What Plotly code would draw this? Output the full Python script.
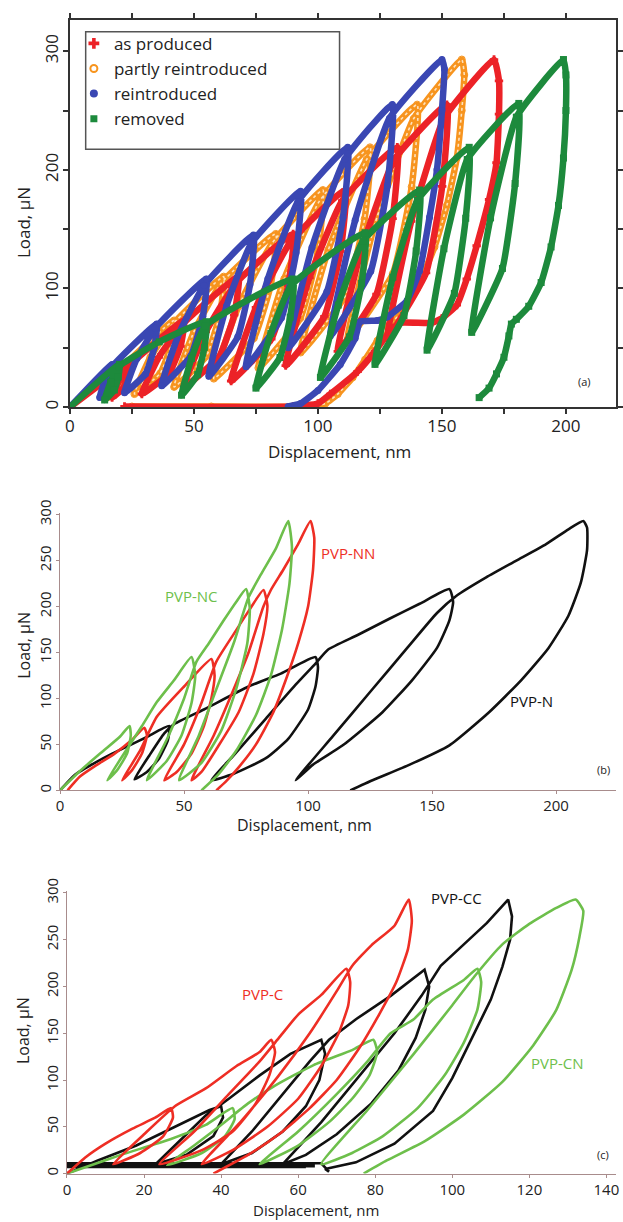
import plotly.graph_objects as go

# ---------------- panel (a): load-displacement, multi-cycle indents ----------------
as_produced_x = [0, 24, 23.4, 21.5, 17, 19.8, 23.6, 46, 44.6, 40, 29, 35.8, 45.2,
                 68, 66.2, 60.3, 46, 54.8, 66.9, 90, 88, 81.2, 65, 75, 88.7,
                 111, 109.1, 102.6, 87, 96.6, 109.8, 132, 130.1, 123.6, 108, 117.6, 130.8,
                 152, 150.1, 143.6, 128, 137.6, 150.8, 171, 173, 173, 172, 169, 164, 160,
                 156, 150, 146, 133, 129, 123, 116, 105, 100, 90, 22]
as_produced_y = [0, 36, 26, 16, 8, 22, 34.3, 73, 51.3, 28.4, 11, 42, 69.3,
                 110, 77.5, 43, 17, 63.5, 104.4, 146, 102.6, 57.3, 22, 84, 138.6,
                 183, 131.2, 76.4, 35, 109, 174.1, 219, 158.8, 95.2, 47, 133, 208.7,
                 255, 186, 113.2, 58, 156.5, 243.2, 293, 275, 247, 206, 175, 136, 108,
                 86, 75, 71, 71, 64, 47, 30, 11, 3, 0.5, 0.5]

partly_x = [0, 22, 21.4, 19.5, 15, 17.8, 21.6, 42, 40.7, 36.4, 26, 32.4, 41.2,
            62, 60.4, 55, 42, 50, 61, 83, 81, 74.2, 58, 68, 81.7,
            102, 99.9, 92.9, 76, 86.4, 100.7, 121, 118.8, 111.2, 93, 104.2, 119.6,
            140, 137.8, 130.2, 112, 123.2, 138.6, 158, 159, 158, 156, 152, 147, 140,
            134, 128, 124, 119, 114, 108, 103, 95, 57, 25]
partly_y = [0, 36, 26, 16, 8, 22, 34.3, 73, 51.3, 28.4, 11, 42, 69.3,
            110, 77.5, 43, 17, 63.5, 104.4, 146, 103.3, 58.2, 24, 85, 138.7,
            183, 130.5, 75, 33, 108, 174, 219, 158.5, 94.4, 46, 132.5, 208.6,
            255, 185.7, 112.4, 57, 156, 243.1, 293, 280, 250, 210, 170, 135, 100,
            80, 68, 56, 40, 25, 11, 3, 0.5, 0.5, 0.5]

reintroduced_x = [0, 17, 16.6, 15.2, 12, 14, 17, 35, 34, 30.5, 22, 27, 34.4,
                  55, 53.6, 48.7, 37, 44.2, 54.1, 74, 72.6, 67.7, 56, 63.2, 73.1,
                  93, 91.2, 85.3, 71, 79.8, 91.9, 112, 110.1, 103.6, 88, 97.6, 110.8,
                  130, 128, 121.3, 105, 115, 128.8, 150, 151, 150, 148, 145, 141, 136,
                  128, 124, 117, 115, 109, 100, 93, 88]
reintroduced_y = [0, 36, 26, 16, 8, 22, 34, 70, 50, 28, 12, 41, 66.5,
                  108, 76.5, 43, 18, 63, 102.6, 145, 103.4, 59.3, 26, 85.5, 137.9,
                  182, 130.2, 75.4, 34, 108, 173.1, 219, 159.9, 97.3, 50, 134.5, 208.9,
                  255, 186.8, 114.6, 60, 157.5, 243.3, 293, 285, 250, 200, 160, 115, 90,
                  76, 73, 72, 58, 36, 14, 3, 0.5]

removed_x = [0, 20, 19.5, 17.9, 14, 16.4, 19.7, 36, 55, 54.2, 51.5, 45, 49, 54.5,
             90, 88.8, 84.7, 75, 81, 89.2, 119, 117.6, 112.7, 101, 108.2, 118.1,
             141, 139.6, 134.7, 123, 130.2, 140.1, 161, 159.6, 155, 144, 150.8, 160.2,
             181, 179.5, 174.4, 162, 169.6, 180, 199, 200, 200, 199, 197, 194, 190,
             185, 180, 178, 177, 175, 172, 169, 165]
removed_y = [0, 36, 25.5, 14.4, 6, 21, 34.2, 55, 72, 50.3, 27.4, 10, 41, 68.3,
             108, 75.8, 41.8, 16, 62, 102.5, 147, 104.3, 59.2, 25, 86, 139.7,
             183, 131.6, 77.2, 36, 109.5, 174.2, 219, 159.2, 95.9, 48, 133.5, 208.7,
             256, 188.5, 116.9, 63, 159.5, 244.4, 293, 280, 250, 210, 170, 135, 105,
             85, 74, 70, 60, 42, 28, 16, 8]

# ---------------- panel (b) ----------------
pvp_n_x = [0, 6, 14, 21, 28, 35, 44, 43.5, 40, 35, 30, 36, 42, 46, 58, 76, 89, 103,
           104, 103, 100, 92, 83, 70, 61, 70, 83, 95, 103, 108, 120, 133, 145, 157,
           158.5, 157, 152, 142, 130, 114, 102, 95, 110, 125, 140, 152, 160, 172, 184,
           196, 205, 211, 212.5, 212.5, 210, 205, 197, 186, 173, 157, 141, 126, 117]
pvp_n_y = [0, 17, 30, 40, 49, 58, 70, 55, 35, 20, 12, 38, 62, 72, 88, 113, 127, 145,
           134, 113, 88, 56, 35, 18, 11, 38, 78, 115, 138, 153, 169, 187, 203, 219,
           205, 185, 155, 120, 85, 49, 28, 11, 59, 107, 155, 193, 212, 232, 250,
           268, 284, 293, 286, 261, 226, 190, 155, 120, 85, 49, 28, 11, 0]

pvp_nn_x = [3, 8, 15, 22, 29, 34, 35, 33, 29, 25, 32, 39, 50, 61,
            62.3, 61, 58, 53, 47, 42, 50, 57, 63, 70, 76, 82,
            83.6, 82, 78, 72, 64, 57, 53, 62, 70, 76, 82, 85, 90, 96, 101,
            102.5, 102, 100, 96, 91, 86, 79, 72, 67, 63]
pvp_nn_y = [0, 15, 28, 40, 55, 68, 60, 40, 22, 11, 42, 80, 113, 143,
            125, 100, 70, 40, 20, 11, 50, 95, 140, 170, 195, 218,
            201, 170, 127, 85, 49, 20, 11, 60, 110, 150, 200, 218, 240, 268, 293,
            275, 240, 200, 160, 120, 85, 50, 25, 10, 0]

pvp_nc_x = [0, 8, 17, 24, 28, 28.5, 27, 23, 19, 27, 33, 39, 46, 53,
            54.5, 53, 49, 43, 35, 43, 50, 55, 60, 66, 71, 75,
            76.5, 75.5, 71, 65, 57, 48, 56, 63, 70, 76, 81, 87, 92,
            93.5, 92.5, 89.5, 85, 79, 71, 64, 57]
pvp_nc_y = [0, 21, 42, 58, 70, 60, 40, 22, 11, 45, 70, 96, 120, 145,
            125, 95, 60, 32, 11, 55, 100, 140, 160, 185, 205, 219,
            198, 160, 110, 65, 30, 11, 60, 110, 160, 210, 235, 263, 293,
            265, 225, 175, 125, 82, 43, 18, 0]

# ---------------- panel (c) ----------------
pvp_c_x = [0, 5, 10, 17, 23, 27, 27.5, 25, 19, 12, 20, 28, 36, 44, 50, 53,
           54, 52.5, 49, 43, 35, 24, 33, 42, 50, 55, 60, 66, 72.5,
           73.5, 73, 70.5, 66, 60, 52, 43, 35, 45, 55, 63, 70, 74, 79, 85, 88.7,
           89.5, 88.5, 85.5, 81, 76, 70, 63, 55, 47, 38]
pvp_c_y = [0, 18, 32, 48, 60, 70, 60, 40, 22, 10, 42, 72, 91, 115, 130, 143,
           130, 105, 75, 45, 25, 10, 45, 85, 120, 145, 170, 191, 219,
           205, 180, 150, 115, 80, 50, 25, 10, 55, 105, 150, 195, 222, 244, 265, 293,
           270, 240, 205, 170, 135, 100, 70, 42, 20, 0]

# the black record ends with a long, noisy low-load stretch near 10 µN back to zero depth
pvp_cc_x = [0, 8, 18, 28, 37, 40, 40.5, 38, 31, 23, 30, 36, 42, 50, 58, 66,
            67, 65.5, 62, 56, 48, 40, 48, 56, 63, 68, 75, 84, 92.8,
            94, 93, 90.5, 86, 79, 70, 62, 56, 66, 76, 85, 92, 97, 103, 109, 114.5,
            115.5, 115, 113, 110, 105, 100, 95, 85, 75, 67, 68, 66, 0, 0, 64, 64, 0, 0, 62]
pvp_cc_y = [0, 14, 30, 50, 68, 72, 60, 40, 20, 10, 38, 62, 80, 105, 128, 143,
            128, 100, 72, 45, 22, 10, 45, 85, 120, 143, 165, 190, 218,
            200, 175, 145, 110, 75, 42, 20, 10, 55, 105, 150, 190, 222, 245, 268, 293,
            275, 250, 221, 186, 144, 102, 67, 32, 12, 5, 2, 11, 11, 9.5, 9.5, 8, 8, 7, 7]

pvp_cn_x = [0, 7, 14, 27, 36, 43, 43.5, 41, 35, 26, 33, 40, 47, 54, 64, 74, 79.5,
            80.5, 78.5, 74, 68, 60, 50, 60, 70, 78, 84, 90, 95, 103, 106.5,
            107.5, 106.5, 103, 98, 91, 82, 74, 66, 78, 90, 100, 106, 113, 120, 127, 132,
            134, 133, 131, 127, 121, 113, 103, 93, 83, 77]
pvp_cn_y = [0, 10, 20, 37, 52, 70, 58, 40, 22, 9, 30, 52, 75, 94, 116, 132, 143,
            130, 105, 80, 55, 30, 10, 45, 85, 120, 150, 165, 186, 207, 219,
            205, 175, 140, 105, 70, 40, 22, 10, 68, 128, 180, 212, 245, 267, 284, 293,
            281, 253, 218, 175, 137, 98, 63, 35, 14, 0]

FONT = "Open Sans, Liberation Sans, sans-serif"
RED, ORANGE, BLUE, GREEN = "#ec2227", "#f7941e", "#3a47b3", "#1d8a3c"
LRED, LGREEN, BLACK = "#ee2e24", "#6dbf4b", "#111111"
W, H = 623, 1222

fig = go.Figure()

# panel (a) curves: thick bands with the sampled points marked
def dense(x, y, color, symbol, width=6.5, size=7):
    fig.add_trace(go.Scatter(x=x, y=y, mode="lines+markers", showlegend=False,
                             line=dict(color=color, width=width, shape="spline", smoothing=0.4),
                             marker=dict(color=color, symbol=symbol, size=size),
                             xaxis="x", yaxis="y", hoverinfo="skip"))

dense(partly_x, partly_y, ORANGE, "circle-open")
fig.add_trace(go.Scatter(x=partly_x, y=partly_y, mode="lines", showlegend=False,
                         line=dict(color="#fde2bf", width=1.6, dash="dot",
                                   shape="spline", smoothing=0.4),
                         xaxis="x", yaxis="y", hoverinfo="skip"))
dense(as_produced_x, as_produced_y, RED, "cross")
dense(reintroduced_x, reintroduced_y, BLUE, "circle")
dense(removed_x, removed_y, GREEN, "square")

# legend entries (markers only)
for name, color, symbol, size, lw in [("as produced", RED, "cross", 9, 0),
                                      ("partly reintroduced", ORANGE, "circle-open", 7, 2),
                                      ("reintroduced", BLUE, "circle", 8, 0),
                                      ("removed", GREEN, "square", 7, 0)]:
    fig.add_trace(go.Scatter(x=[None], y=[None], mode="markers", name=name, legendgroup=name,
                             marker=dict(color=color, symbol=symbol, size=size,
                                         line=dict(color=color, width=lw)),
                             xaxis="x", yaxis="y"))

# panels (b) and (c): thin noisy traces
def thin(x, y, color, xa, ya, shape="spline"):
    fig.add_trace(go.Scatter(x=x, y=y, mode="lines", showlegend=False,
                             line=dict(color=color, width=2.6, shape=shape, smoothing=0.5),
                             xaxis=xa, yaxis=ya, hoverinfo="skip"))

thin(pvp_n_x, pvp_n_y, BLACK, "x2", "y2")
thin(pvp_nn_x, pvp_nn_y, LRED, "x2", "y2")
thin(pvp_nc_x, pvp_nc_y, LGREEN, "x2", "y2")

thin(pvp_cc_x, pvp_cc_y, BLACK, "x3", "y3", shape="linear")
thin(pvp_cn_x, pvp_cn_y, LGREEN, "x3", "y3")
thin(pvp_c_x, pvp_c_y, LRED, "x3", "y3")

axis_a = dict(showline=True, linecolor="#333", linewidth=1.5, mirror="ticks",
              ticks="outside", ticklen=5, tickwidth=1.5, tickcolor="#333",
              showgrid=False, zeroline=False, ticklabelstandoff=-2,
              tickfont=dict(family=FONT, size=17, color="#222"))
axis_bc = dict(showline=True, linecolor="#a88c8c", linewidth=1.2, ticks="outside",
               ticklen=3, tickwidth=1, tickcolor="#a88c8c", showgrid=False, zeroline=False,
               ticklabeloverflow="allow", ticklabelstandoff=-1,
               tickfont=dict(family=FONT, size=15, color="#222"))

def px_x(p):
    return p / W

def px_y(p):
    return 1 - p / H

fig.update_layout(
    width=W, height=H, margin=dict(l=0, r=0, t=0, b=0),
    paper_bgcolor="white", plot_bgcolor="white",
    font=dict(family=FONT, color="#222"),
    xaxis=dict(axis_a, domain=[px_x(66), px_x(621)], range=[0, 220.2], anchor="y",
               tickvals=[0, 50, 100, 150, 200],
               minor=dict(dtick=25, ticklen=5, tickwidth=1.5, tickcolor="#333", ticks="outside")),
    yaxis=dict(axis_a, domain=[px_y(399), px_y(7)], range=[0, 326.4], anchor="x",
               tickvals=[0, 100, 200, 300], tickangle=-90,
               minor=dict(dtick=50, ticklen=5, tickwidth=1.5, tickcolor="#333", ticks="outside")),
    xaxis2=dict(axis_bc, domain=[px_x(56), px_x(621)], range=[0, 224.2], anchor="y2",
                tickvals=[0, 50, 100, 150, 200]),
    yaxis2=dict(axis_bc, domain=[px_y(787), px_y(506)], range=[0, 302], anchor="x2",
                tickvals=[0, 50, 100, 150, 200, 250, 300], tickangle=-90),
    xaxis3=dict(axis_bc, domain=[px_x(63), px_x(621)], range=[0, 142.5], anchor="y3",
                tickvals=[0, 20, 40, 60, 80, 100, 120, 140]),
    yaxis3=dict(axis_bc, domain=[px_y(1175), px_y(889)], range=[0, 302], anchor="x3",
                tickvals=[0, 50, 100, 150, 200, 250, 300], tickangle=-90),
    legend=dict(x=px_x(70), y=px_y(13), xanchor="left", yanchor="top",
                bgcolor="rgba(0,0,0,0)", borderwidth=0, tracegroupgap=0,
                font=dict(family=FONT, size=17, color="#222")),
    showlegend=True,
)

# legend frame
fig.add_shape(type="rect", xref="paper", yref="paper",
              x0=px_x(82), x1=px_x(340), y0=px_y(138), y1=px_y(19),
              line=dict(color="#555", width=1.5), fillcolor="rgba(0,0,0,0)")

def note(text, x, y, xref, yref, size=16, color="#222", angle=0):
    fig.add_annotation(text=text, x=x, y=y, xref=xref, yref=yref, showarrow=False,
                       xanchor="center", yanchor="middle", textangle=angle,
                       font=dict(family=FONT, size=size, color=color))

# axis titles
note("Displacement, nm", px_x(340), px_y(444), "paper", "paper", 17)
note("Load, µN", px_x(19), px_y(212), "paper", "paper", 17, angle=-90)
note("Displacement, nm", px_x(304), px_y(822), "paper", "paper", 16)
note("Load, µN", px_x(19), px_y(640), "paper", "paper", 16, angle=-90)
note("Displacement, nm", px_x(316), px_y(1212), "paper", "paper", 15)
note("Load, µN", px_x(19), px_y(1030), "paper", "paper", 16, angle=-90)

# panel tags and curve labels
note("(a)", 207.6, 21.6, "x", "y", 11)
note("(b)", 219, 23, "x2", "y2", 11)
note("(c)", 139, 20.5, "x3", "y3", 11)
note("PVP-NC", 53, 211, "x2", "y2", 15, LGREEN)
note("PVP-NN", 116, 258, "x2", "y2", 15, LRED)
note("PVP-N", 190, 97, "x2", "y2", 15, BLACK)
note("PVP-CC", 101, 295, "x3", "y3", 15, BLACK)
note("PVP-C", 50.7, 192, "x3", "y3", 15, LRED)
note("PVP-CN", 127.3, 118, "x3", "y3", 15, LGREEN)

fig.write_html("out.html")
